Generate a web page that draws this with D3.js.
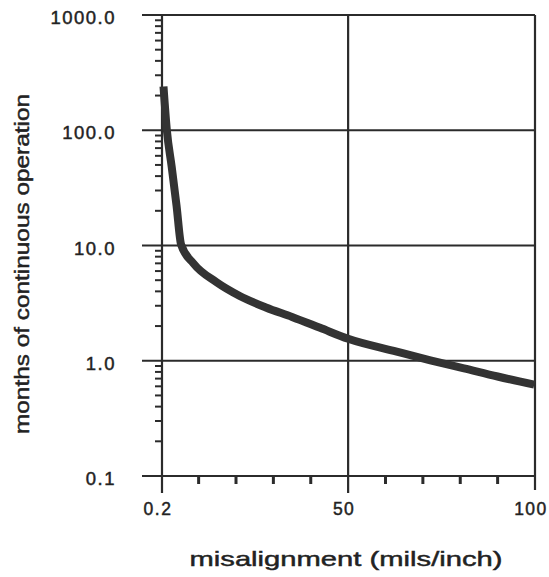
<!DOCTYPE html>
<html>
<head>
<meta charset="utf-8">
<script src="https://cdn.jsdelivr.net/npm/d3@7"></script>
<style>
    body { margin: 0; background: #fff; }
    svg { display: block; }
    text { font-family: "Liberation Sans", Arial, Helvetica, sans-serif; fill: #222; stroke: #222; stroke-width: 0.45px; }
</style>
</head>
<body>
<div id="chart-container"></div>
<script>
// values
const misalignment = [0.6, 1.5, 2.8, 4.1, 5.3, 8.6, 14.8, 21, 28, 35, 42.5, 50, 63, 72, 81, 90, 99.8];
const months = [240, 100, 48, 22, 10.2, 7.0, 4.8, 3.65, 2.9, 2.4, 1.93, 1.55, 1.2, 1.01, 0.86, 0.73, 0.62];

const xTicks = [0.2, 50, 100];
const xTickLabels = ["0.2", "50", "100"];
const xMinorTicks = [10, 20, 30, 40, 60, 70, 80, 90];
const yTicks = [0.1, 1, 10, 100, 1000];
const yTickLabels = ["0.1", "1.0", "10.0", "100.0", "1000.0"];

const chart = () => {
    const width = 549;
    const height = 577;
    const margin = {top: 15, right: 14, bottom: 101, left: 162};
    const ink = "#2b2b2b";

    const x = d3.scaleLinear()
        .domain([0.2, 100])
        .range([margin.left, width - margin.right]);

    const y = d3.scaleLog()
        .domain([0.1, 1000])
        .range([height - margin.bottom, margin.top]);

    const svg = d3.create("svg")
        .attr("viewBox", [0, 0, width, height])
        .attr("width", width)
        .attr("height", height);

    const y0 = y(0.1);
    const y1 = y(1000);

    // minor log ticks on left axis
    const minors = [];
    yTicks.slice(0, -1).forEach(d => {
        for (let k = 2; k <= 9; k++) minors.push(d * k);
    });
    svg.append("g")
        .attr("stroke", ink)
        .attr("stroke-width", 2)
        .selectAll("line")
        .data(minors)
        .join("line")
        .attr("x1", x(0.2) - 7)
        .attr("x2", x(0.2))
        .attr("y1", d => y(d))
        .attr("y2", d => y(d));

    // horizontal grid lines at decades
    svg.append("g")
        .attr("stroke", ink)
        .attr("stroke-width", 2)
        .selectAll("line")
        .data(yTicks)
        .join("line")
        .attr("x1", x(0.2) - 20)
        .attr("x2", x(100))
        .attr("y1", d => y(d))
        .attr("y2", d => y(d));

    // vertical grid lines / axis
    svg.append("g")
        .attr("stroke", ink)
        .attr("stroke-width", 2.2)
        .selectAll("line")
        .data(xTicks)
        .join("line")
        .attr("x1", d => x(d))
        .attr("x2", d => x(d))
        .attr("y1", y1)
        .attr("y2", d => d === 100 ? y0 + 14 : y0 + 17);

    // minor ticks below x axis
    svg.append("g")
        .attr("stroke", ink)
        .attr("stroke-width", 3)
        .selectAll("line")
        .data(xMinorTicks)
        .join("line")
        .attr("x1", d => x(d))
        .attr("x2", d => x(d))
        .attr("y1", y0)
        .attr("y2", y0 + 8);

    // the curve
    const line = d3.line()
        .x(d => x(d[0]))
        .y(d => y(d[1]))
        .curve(d3.curveMonotoneX);

    svg.append("path")
        .datum(misalignment.map((d, i) => [d, months[i]]))
        .attr("fill", "none")
        .attr("stroke", "#333")
        .attr("stroke-width", 8)
        .attr("stroke-linejoin", "round")
        .attr("d", line);

    // y tick labels
    svg.append("g")
        .style("font-size", "18.5px")
        .style("letter-spacing", "1.5px")
        .selectAll("text")
        .data(yTicks)
        .join("text")
        .attr("x", 116)
        .attr("y", d => y(d) + 9)
        .attr("text-anchor", "end")
        .text((d, i) => yTickLabels[i]);

    // x tick labels
    svg.append("g")
        .style("font-size", "17.5px")
        .style("letter-spacing", "1.5px")
        .selectAll("text")
        .data(xTicks)
        .join("text")
        .attr("x", d => x(d) - 4)
        .attr("y", y0 + 39)
        .attr("text-anchor", "middle")
        .text((d, i) => xTickLabels[i]);

    // axis titles
    svg.append("text")
        .attr("x", 346)
        .attr("y", 566)
        .attr("text-anchor", "middle")
        .attr("textLength", 313)
        .attr("lengthAdjust", "spacingAndGlyphs")
        .style("font-size", "21px")
        .text("misalignment (mils/inch)");

    svg.append("text")
        .attr("transform", "translate(29,264) rotate(-90)")
        .attr("text-anchor", "middle")
        .attr("textLength", 340)
        .attr("lengthAdjust", "spacingAndGlyphs")
        .style("font-size", "20px")
        .text("months of continuous operation");

    return svg.node();
};

window.onload = function () {
    const chartContainer = d3.select("#chart-container");
    chartContainer.node().appendChild(chart());
};
</script>
</body>
</html>
